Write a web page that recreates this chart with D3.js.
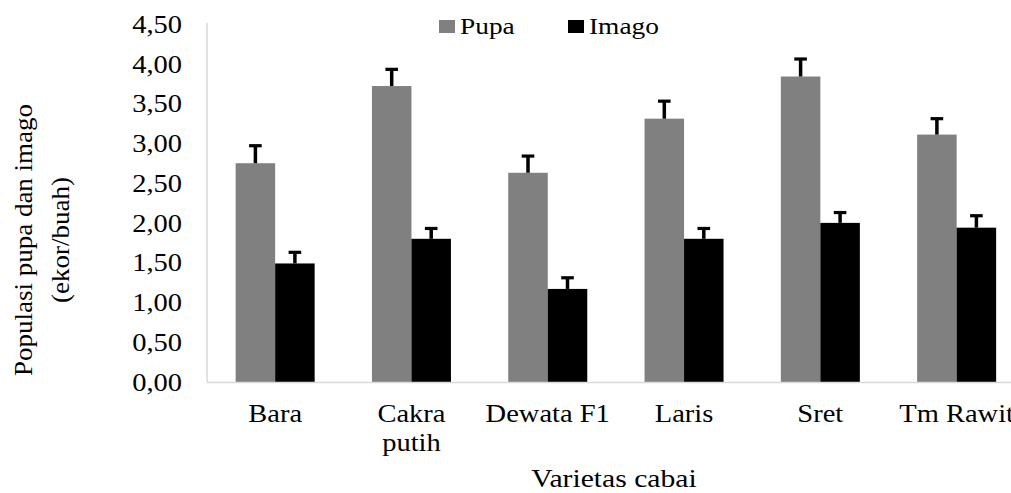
<!DOCTYPE html>
<html>
<head>
<meta charset="utf-8">
<script src="https://cdn.jsdelivr.net/npm/d3@7"></script>
<style>
  html, body { margin: 0; padding: 0; background: #fff; }
  svg { display: block; overflow: hidden; }
</style>
</head>
<body>
<svg id="chart" width="1011" height="493"></svg>
<script>
// Data
const categories = ["Bara", "Cakra putih", "Dewata F1", "Laris", "Sret", "Tm Rawit"];
const seriesNames = ["Pupa", "Imago"];
const pupaValues  = [2.75, 3.72, 2.63, 3.31, 3.84, 3.11];
const pupaErrors  = [0.22, 0.21, 0.21, 0.22, 0.22, 0.20];
const imagoValues = [1.49, 1.80, 1.17, 1.80, 2.00, 1.94];
const imagoErrors = [0.14, 0.13, 0.14, 0.13, 0.13, 0.15];
const yTicks = [0, 0.5, 1, 1.5, 2, 2.5, 3, 3.5, 4, 4.5];
const colors = { "Pupa": "#808080", "Imago": "#000000" };

const FONT = "'Liberation Serif', 'Times New Roman', serif";
const STRETCH = 1.14;
function stretchEl(el, k) {
  const len = el.getComputedTextLength();
  d3.select(el).attr("textLength", len * k).attr("lengthAdjust", "spacingAndGlyphs");
}
function stretch(sel) { sel.each(function() { stretchEl(this, STRETCH); }); }

const svg = d3.select("#chart");
const plotLeft = 207, plotBottom = 382, plotTop = 24;
const step = 136.3;
const plotRight = plotLeft + step * categories.length;

const y = d3.scaleLinear().domain([0, 4.5]).range([plotBottom, plotTop]);
const pad = 1 - 79 / step;
const x0 = d3.scaleBand().domain(categories).range([plotLeft, plotRight]).paddingInner(pad).paddingOuter(pad / 2);
const x1 = d3.scaleBand().domain(seriesNames).range([0, x0.bandwidth()]);

const fmt = v => d3.format(".2f")(v).replace(".", ",");

// Y axis line
svg.append("line").attr("x1", plotLeft).attr("x2", plotLeft).attr("y1", y(4.5) - 1).attr("y2", plotBottom)
  .attr("stroke", "#d9d9d9").attr("stroke-width", 1.5);

// Y tick labels via axis
const yAxis = d3.axisLeft(y).tickValues(yTicks).tickFormat(fmt).tickSize(0).tickPadding(25);
const yg = svg.append("g").attr("transform", `translate(${plotLeft},0)`).call(yAxis);
yg.attr("font-family", null).attr("font-size", null);
yg.select(".domain").remove();
yg.selectAll("text").style("font-family", FONT).style("font-size", "25px")
  .attr("fill", "#000").attr("dy", "0.33em").call(stretch);

// Data rows
const rows = categories.map((c, i) => ({
  cat: c,
  items: [
    { s: "Pupa", v: pupaValues[i], e: pupaErrors[i] },
    { s: "Imago", v: imagoValues[i], e: imagoErrors[i] }
  ]
}));

const groups = svg.append("g").selectAll("g").data(rows).join("g")
  .attr("transform", d => `translate(${x0(d.cat)},0)`);

groups.selectAll("rect").data(d => d.items).join("rect")
  .attr("x", d => x1(d.s)).attr("width", x1.bandwidth())
  .attr("y", d => y(d.v)).attr("height", d => plotBottom - y(d.v))
  .attr("fill", d => colors[d.s]);

// Error bars
const eb = groups.selectAll("g.err").data(d => d.items).join("g").attr("class", "err");
eb.append("line")
  .attr("x1", d => x1(d.s) + x1.bandwidth() / 2).attr("x2", d => x1(d.s) + x1.bandwidth() / 2)
  .attr("y1", d => y(d.v)).attr("y2", d => y(d.v + d.e))
  .attr("stroke", "#000").attr("stroke-width", 3.5);
eb.append("line")
  .attr("x1", d => x1(d.s) + x1.bandwidth() / 2 - 6.3).attr("x2", d => x1(d.s) + x1.bandwidth() / 2 + 6.3)
  .attr("y1", d => y(d.v + d.e)).attr("y2", d => y(d.v + d.e))
  .attr("stroke", "#000").attr("stroke-width", 3.2);

// X axis line
svg.append("line").attr("x1", plotLeft).attr("x2", plotRight).attr("y1", plotBottom + 0.5).attr("y2", plotBottom + 0.5)
  .attr("stroke", "#d9d9d9").attr("stroke-width", 1.5);

// X labels
const xl = svg.append("g").selectAll("text").data(categories).join("text")
  .attr("x", d => x0(d) + x0.bandwidth() / 2)
  .attr("y", 421.5)
  .attr("text-anchor", "middle").style("font-family", FONT).style("font-size", "25px");
xl.each(function(d) {
  const parts = d === "Cakra putih" ? ["Cakra", "putih"] : [d];
  const t = d3.select(this);
  parts.forEach((p, i) => {
    t.append("tspan").attr("x", x0(d) + x0.bandwidth() / 2).attr("dy", i === 0 ? 0 : 29).text(p);
  });
});
xl.selectAll("tspan").each(function() { stretchEl(this, STRETCH); });

// X title
svg.append("text").attr("x", 614).attr("y", 487).attr("text-anchor", "middle")
  .style("font-family", FONT).style("font-size", "26px").text("Varietas cabai").call(stretch);

// Y title
const yt = svg.append("text").attr("transform", "translate(0,240) rotate(-90)")
  .attr("text-anchor", "middle").style("font-family", FONT).style("font-size", "25px");
yt.append("tspan").attr("x", 0).attr("y", 32).text("Populasi pupa dan imago");
yt.append("tspan").attr("x", 0).attr("y", 69).text("(ekor/buah)");
yt.selectAll("tspan").each(function() { stretchEl(this, 1.08); });

// Legend
const legendItems = [
  { s: "Pupa", x: 439 },
  { s: "Imago", x: 568 }
];
const lg = svg.append("g").selectAll("g").data(legendItems).join("g")
  .attr("transform", d => `translate(${d.x},0)`);
lg.append("rect").attr("x", 0).attr("y", 20).attr("width", 16).attr("height", 13)
  .attr("fill", d => colors[d.s]);
lg.append("text").attr("x", 21).attr("y", 34).style("font-family", FONT).style("font-size", "24px")
  .text(d => d.s).call(stretch);
</script>
</body>
</html>
